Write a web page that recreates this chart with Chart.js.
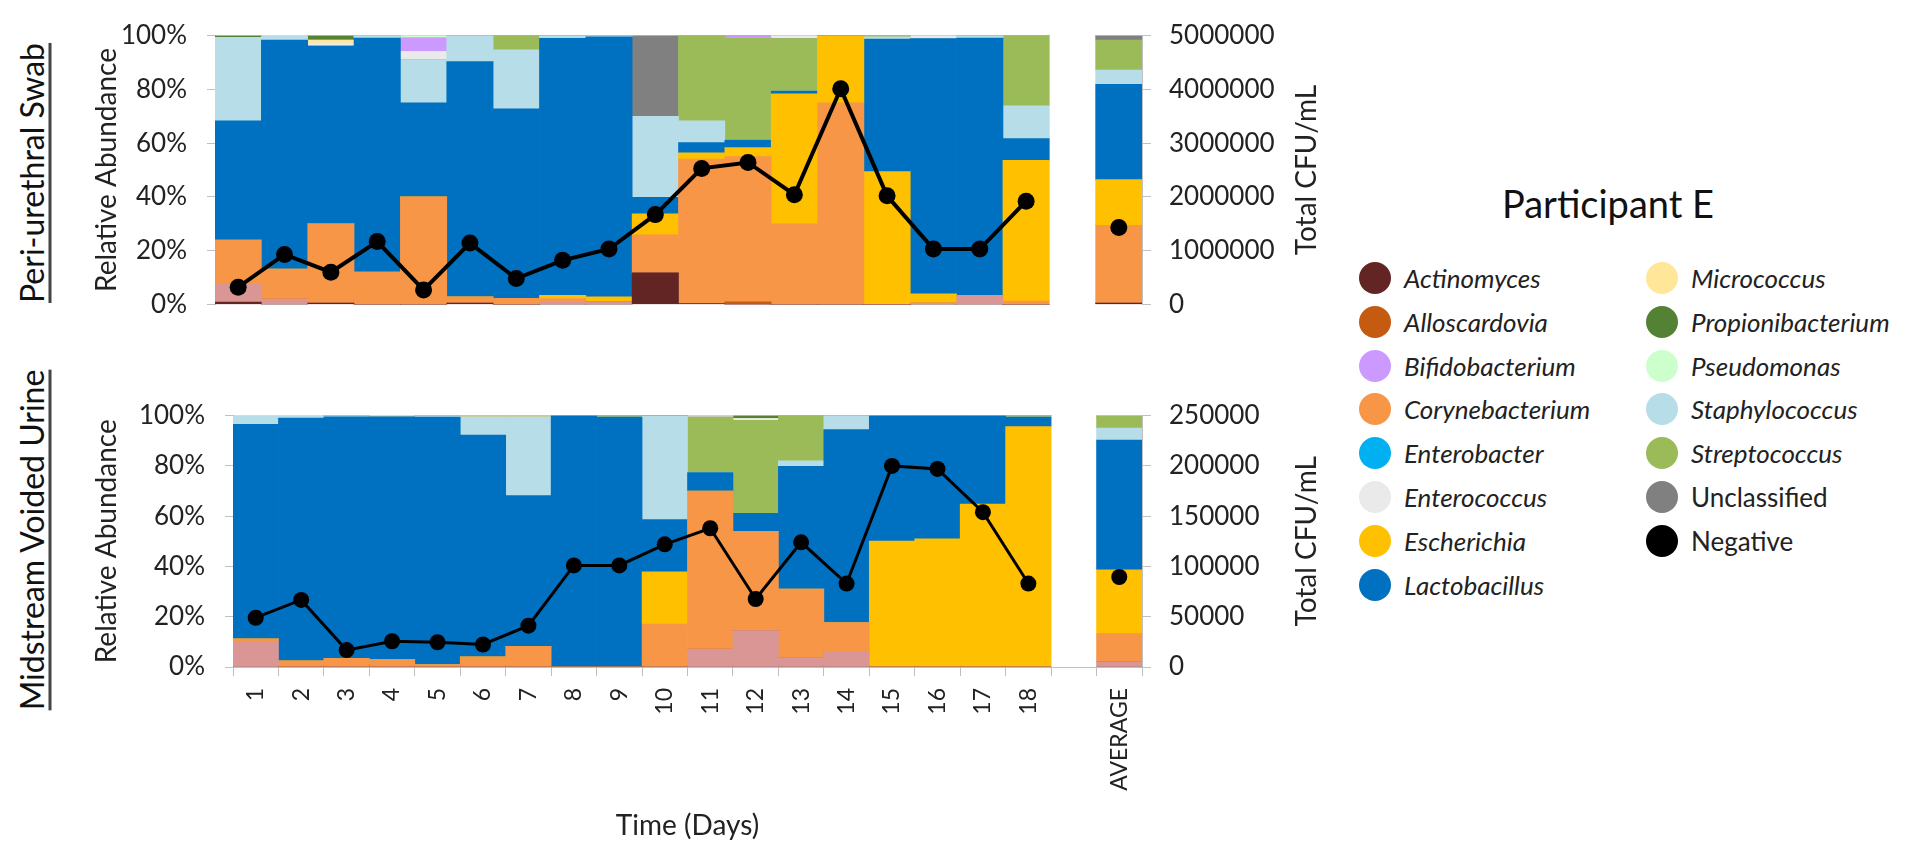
<!DOCTYPE html>
<html>
<head>
<meta charset="utf-8">
<script src="https://cdn.jsdelivr.net/npm/chart.js@4.4.1/dist/chart.umd.min.js"></script>
<style>
  body { margin: 0; width: 1917px; height: 850px; background: #fff; position: relative; overflow: hidden; font-family: Lato, sans-serif; color: #111; }
  .box { position: absolute; left: 0; }
  .site { position: absolute; transform: translate(-50%, -50%) rotate(-90deg); font-size: 32px; white-space: nowrap;
          text-decoration: underline; text-decoration-thickness: 3px; text-underline-offset: 5px; text-decoration-color: #444; }
  #legTitle { position: absolute; left: 1608px; top: 203px; transform: translate(-50%, -50%); font-size: 38px; white-space: nowrap; }
  .dot { position: absolute; width: 32px; height: 32px; border-radius: 50%; transform: translate(-50%, -50%); }
  .lab { position: absolute; transform: translateY(-50%); font-size: 26px; white-space: nowrap; color: #222; }
</style>
</head>
<body>
<div class="site" style="left:31px; top:173px;">Peri-urethral Swab</div>
<div class="site" style="left:31px; top:540px;">Midstream Voided Urine</div>
<div class="box" style="top:0px;"><canvas id="swab" width="1330" height="340"></canvas></div>
<div class="box" style="top:380px;"><canvas id="urine" width="1330" height="470"></canvas></div>
<div id="legTitle">Participant E</div>
<div id="legend"></div>
<script>
// jours + moyenne (l'index 18 reste vide)
const days = ['1','2','3','4','5','6','7','8','9','10','11','12','13','14','15','16','17','18','','AVERAGE'];

// Total CFU/mL
const swabTotal  = [320000, 930000, 600000, 1170000, 270000, 1140000, 480000, 820000, 1030000, 1670000, 2530000, 2640000, 2040000, 4010000, 2020000, 1030000, 1030000, 1920000, null, 1430000];
const urineTotal = [49000, 66700, 16800, 25600, 24600, 22400, 41100, 101000, 101000, 122000, 138000, 67600, 124000, 83000, 200000, 197000, 154000, 83000, null, 89500];

// abondance relative (%) - écouvillon
const swabActino    = [0.9, 0, 0.5, 0, 0, 0.5, 0, 0, 0, 11.7, 0.3, 0, 0, 0, 0, 0, 0, 0, null, 0.5];
const swabOther     = [6.9, 2, 0, 0, 0, 0, 0, 0.8, 1, 0, 0, 0, 0, 0, 0, 0.5, 3.4, 0, null, 0];
const swabAllo      = [0, 0, 0, 0, 0, 0, 0, 0, 0, 0, 0, 1, 0, 0, 0, 0, 0, 0, null, 0];
const swabCoryne    = [16.1, 11.1, 29.5, 12, 40, 2.3, 2.3, 1.4, 0, 14.2, 53.8, 54, 30, 75, 0, 0, 0, 1.2, null, 28.9];
const swabEsch      = [0, 0, 0, 0, 0, 0, 0, 1.2, 1.8, 7.8, 2.3, 3.3, 48.3, 25, 49.4, 3.4, 0, 52.4, null, 17];
const swabLacto     = [44.4, 85.2, 66.1, 87.1, 35, 87.5, 70.5, 95.6, 96.7, 6.1, 3.8, 2.8, 1.1, 0, 49.3, 95, 95.7, 8.1, null, 35.5];
const swabStaph     = [31.1, 1.4, 0, 0.7, 16.1, 9.7, 21.9, 1.0, 0.5, 30.2, 8.1, 0, 0, 0, 0.8, 0, 0.9, 12.2, null, 5.3];
const swabStrep     = [0, 0, 0, 0, 0, 0, 5.3, 0, 0, 0, 31.7, 38, 19.5, 0, 0.5, 0, 0, 26.1, null, 11.1];
const swabUnclass   = [0, 0, 0, 0, 0, 0, 0, 0, 0, 30, 0, 0, 0, 0, 0, 0, 0, 0, null, 1.7];
const swabEnteroc   = [0, 0, 1.1, 0, 3, 0, 0, 0, 0, 0, 0, 0, 1.1, 0, 0, 1.1, 0, 0, null, 0];
const swabMicro     = [0, 0, 1.1, 0, 0, 0, 0, 0, 0, 0, 0, 0, 0, 0, 0, 0, 0, 0, null, 0];
const swabBifido    = [0, 0, 0, 0, 5, 0, 0, 0, 0, 0, 0, 0.9, 0, 0, 0, 0, 0, 0, null, 0];
const swabPropioni  = [0.6, 0, 1.7, 0, 0, 0, 0, 0, 0, 0, 0, 0, 0, 0, 0, 0, 0, 0, null, 0];
const swabPseudo    = [0, 0.3, 0, 0.2, 0.9, 0, 0, 0, 0, 0, 0, 0, 0, 0, 0, 0, 0, 0, null, 0];
const swabEntero    = [0, 0, 0, 0, 0, 0, 0, 0, 0, 0, 0, 0, 0, 0, 0, 0, 0, 0, null, 0];

// abondance relative (%) - urine
const urineActino   = [0, 0, 0, 0, 0, 0, 0, 0, 0, 0, 0, 0, 0, 0, 0, 0, 0, 0, null, 0];
const urineOther    = [10.2, 0, 0, 0, 0, 0, 0, 0, 0, 0, 7.1, 14.5, 3.7, 5.8, 0, 0, 0, 0, null, 2.1];
const urineAllo     = [0, 0, 0, 0, 0, 0, 0, 0, 0, 0, 0, 0, 0, 0, 0, 0, 0, 0, null, 0];
const urineCoryne   = [1, 2.5, 3.4, 3, 1, 4, 8.2, 0, 0, 17.1, 62.9, 39.4, 27.3, 11.9, 0, 0, 0, 0, null, 11.2];
const urineEsch     = [0, 0, 0, 0, 0, 0, 0, 0, 0, 20.8, 0, 0, 0, 0, 50.1, 51, 64.8, 95.6, null, 25.4];
const urineLacto    = [85.3, 96.5, 96.1, 96.5, 98.4, 88.3, 60, 100, 99.4, 20.7, 7.3, 7.2, 48.8, 76.7, 49.9, 49, 35.2, 3.8, null, 51.6];
const urineStaph    = [3.2, 0.7, 0.5, 0, 0.6, 7.1, 31.2, 0, 0, 41.1, 0, 0, 2.2, 5.6, 0, 0, 0, 0, null, 4.7];
const urineStrep    = [0, 0, 0, 0, 0, 0, 0, 0, 0.6, 0.3, 22.1, 37, 18, 0, 0, 0, 0, 0.6, null, 4.8];
const urineUnclass  = [0, 0, 0, 0, 0, 0, 0, 0, 0, 0, 0, 0, 0, 0, 0, 0, 0, 0, null, 0];
const urineEnteroc  = [0, 0, 0, 0, 0, 0, 0, 0, 0, 0, 0.6, 0.7, 0, 0, 0, 0, 0, 0, null, 0];
const urineMicro    = [0, 0, 0, 0, 0, 0.6, 0.6, 0, 0, 0, 0, 0, 0, 0, 0, 0, 0, 0, null, 0];
const urineBifido   = [0, 0, 0, 0, 0, 0, 0, 0, 0, 0, 0, 0, 0, 0, 0, 0, 0, 0, null, 0];
const urinePropioni = [0, 0, 0, 0, 0, 0, 0, 0, 0, 0, 0, 1.2, 0, 0, 0, 0, 0, 0, null, 0];
const urinePseudo   = [0.3, 0.3, 0, 0.5, 0, 0, 0, 0, 0, 0, 0, 0, 0, 0, 0, 0, 0, 0, null, 0.2];
const urineEntero   = [0, 0, 0, 0, 0, 0, 0, 0, 0, 0, 0, 0, 0, 0, 0, 0, 0, 0, null, 0];

// ordre d'empilement (du bas vers le haut)
const taxa = [
  { name: 'Actinomyces',       color: '#632523', swab: swabActino,   urine: urineActino },
  { name: 'Other',             color: '#D99694', swab: swabOther,    urine: urineOther },
  { name: 'Alloscardovia',     color: '#C55A11', swab: swabAllo,     urine: urineAllo },
  { name: 'Corynebacterium',   color: '#F79646', swab: swabCoryne,   urine: urineCoryne },
  { name: 'Escherichia',       color: '#FFC000', swab: swabEsch,     urine: urineEsch },
  { name: 'Lactobacillus',     color: '#0070C0', swab: swabLacto,    urine: urineLacto },
  { name: 'Staphylococcus',    color: '#B7DDE8', swab: swabStaph,    urine: urineStaph },
  { name: 'Streptococcus',     color: '#9BBB59', swab: swabStrep,    urine: urineStrep },
  { name: 'Unclassified',      color: '#808080', swab: swabUnclass,  urine: urineUnclass },
  { name: 'Enterococcus',      color: '#EAEAEA', swab: swabEnteroc,  urine: urineEnteroc },
  { name: 'Micrococcus',       color: '#FFE699', swab: swabMicro,    urine: urineMicro },
  { name: 'Bifidobacterium',   color: '#CC99FF', swab: swabBifido,   urine: urineBifido },
  { name: 'Propionibacterium', color: '#548235', swab: swabPropioni, urine: urinePropioni },
  { name: 'Pseudomonas',       color: '#CCFFCC', swab: swabPseudo,   urine: urinePseudo },
  { name: 'Enterobacter',      color: '#00B0F0', swab: swabEntero,   urine: urineEntero }
];

const legendLeft  = ['Actinomyces', 'Alloscardovia', 'Bifidobacterium', 'Corynebacterium', 'Enterobacter', 'Enterococcus', 'Escherichia', 'Lactobacillus'];
const legendRight = ['Micrococcus', 'Propionibacterium', 'Pseudomonas', 'Staphylococcus', 'Streptococcus', 'Unclassified', 'Negative'];

// titre vertical de l'axe de droite (lu de bas en haut)
const rightTitle = {
  id: 'rightTitle',
  afterDraw(chart, args, opts) {
    const s = chart.scales.y1, ctx = chart.ctx;
    ctx.save();
    ctx.translate(opts.x, (s.top + s.bottom) / 2);
    ctx.rotate(-Math.PI / 2);
    ctx.font = '28px Lato';
    ctx.fillStyle = '#222';
    ctx.textAlign = 'center';
    ctx.textBaseline = 'middle';
    ctx.fillText(opts.text, 0, 0);
    ctx.restore();
  }
};

function makeChart(id, site, totals, o) {
  const datasets = taxa.map(t => ({
    type: 'bar',
    label: t.name,
    data: t[site],
    backgroundColor: t.color,
    borderWidth: 0,
    barPercentage: 1,
    categoryPercentage: 1,
    yAxisID: 'y',
    order: 2
  }));
  datasets.push({
    type: 'line',
    label: 'Total CFU/mL',
    data: totals,
    yAxisID: 'y1',
    borderColor: '#000',
    backgroundColor: '#000',
    borderWidth: o.lineWidth,
    pointRadius: o.pointRadius,
    pointBorderWidth: 0,
    spanGaps: false,
    clip: false,
    order: 1
  });

  return new Chart(document.getElementById(id), {
    data: { labels: days, datasets: datasets },
    plugins: [rightTitle],
    options: {
      responsive: false,
      animation: false,
      layout: { padding: o.padding },
      plugins: {
        legend: { display: false },
        tooltip: { enabled: false },
        rightTitle: { text: 'Total CFU/mL', x: 1307 }
      },
      scales: {
        x: {
          stacked: true,
          display: o.showX,
          grid: { offset: true, drawOnChartArea: false, tickLength: 9, color: '#bfbfbf' },
          border: { color: '#bfbfbf' },
          ticks: { minRotation: 90, maxRotation: 90, autoSkip: false, padding: 12, color: '#222', font: { family: 'Lato', size: 23 } },
          title: { display: true, text: 'Time (Days)', color: '#222', font: { family: 'Lato', size: 28 }, padding: { top: 0, bottom: 7 } },
          afterFit: s => { s.height = o.xHeight; }
        },
        y: {
          stacked: true,
          min: 0,
          max: 100,
          ticks: { stepSize: 20, padding: 20, color: '#222', font: { family: 'Lato', size: 26 }, callback: v => v + '%' },
          grid: { drawOnChartArea: false, tickLength: 8, color: '#bfbfbf' },
          border: { color: '#bfbfbf' },
          title: { display: true, text: 'Relative Abundance', color: '#222', font: { family: 'Lato', size: 28 }, padding: { top: 0, bottom: 0 } },
          afterFit: s => { s.width = o.yWidth; }
        },
        y1: {
          position: 'right',
          min: 0,
          max: o.max,
          ticks: { stepSize: o.step, padding: 18, color: '#222', font: { family: 'Lato', size: 26 }, callback: v => String(v) },
          grid: { drawOnChartArea: false, tickLength: 9, color: '#bfbfbf' },
          border: { color: '#bfbfbf' },
          afterFit: s => { s.width = 188; }
        }
      }
    }
  });
}

makeChart('swab', 'swab', swabTotal, {
  padding: { left: 90, top: 23, right: 0, bottom: 17 },
  showX: false, xHeight: 0, yWidth: 125, max: 5000000, step: 1000000, lineWidth: 4, pointRadius: 8.5
});
makeChart('urine', 'urine', urineTotal, {
  padding: { left: 90, top: 20, right: 0, bottom: 0 },
  showX: true, xHeight: 183, yWidth: 143, max: 250000, step: 50000, lineWidth: 3, pointRadius: 8
});

// légende
const legend = document.getElementById('legend');
function addItem(name, cx, i) {
  const y = 278 + 43.8 * i;
  const t = taxa.find(d => d.name === name);
  const color = t ? t.color : '#000';
  const dot = document.createElement('div');
  dot.className = 'dot';
  dot.style.left = cx + 'px';
  dot.style.top = y + 'px';
  dot.style.background = color;
  legend.appendChild(dot);
  const lab = document.createElement('div');
  lab.className = 'lab';
  lab.style.left = (cx + 29) + 'px';
  lab.style.top = y + 'px';
  if (name !== 'Unclassified' && name !== 'Negative') lab.style.fontStyle = 'italic';
  lab.textContent = name;
  legend.appendChild(lab);
}
legendLeft.forEach((n, i) => addItem(n, 1375, i));
legendRight.forEach((n, i) => addItem(n, 1662, i));
</script>
</body>
</html>
